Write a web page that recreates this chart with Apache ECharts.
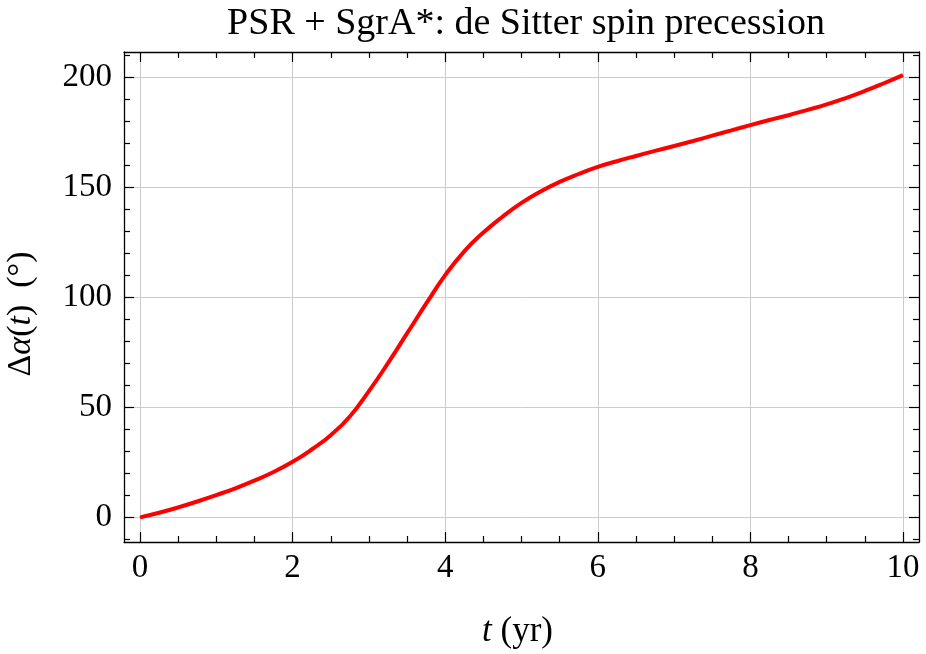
<!DOCTYPE html>
<html>
<head>
<meta charset="utf-8">
<script src="https://cdn.jsdelivr.net/npm/echarts@6/dist/echarts.min.js"></script>
<style>
html,body{margin:0;padding:0;background:#fff;}
#chart{width:926px;height:654px;}
</style>
</head>
<body>
<div id="chart"></div>
<script>
var chart = echarts.init(document.getElementById('chart'));

// time (yr) and precession angle (deg)
var tYears = [0, 0.25, 0.5, 0.75, 1, 1.25, 1.5, 1.75, 2, 2.25, 2.5, 2.75, 3, 3.25, 3.5, 3.75, 4,
    4.25, 4.5, 4.75, 5, 5.25, 5.5, 5.75, 6, 6.25, 6.5, 6.75, 7, 7.25, 7.5, 7.75, 8,
    8.25, 8.5, 8.75, 9, 9.25, 9.5, 9.75, 10];
var dAlpha = [0, 2.1, 4.5, 7.2, 10.1, 13.2, 16.7, 20.6, 25.2, 30.8, 37.3, 45.8, 57.3, 70.0, 83.5, 97.0, 110.0,
    120.8, 129.3, 136.5, 142.8, 148.0, 152.3, 155.9, 159.1, 161.7, 164.1, 166.4, 168.6, 170.9, 173.3, 175.7, 178.1,
    180.4, 182.6, 185.0, 187.5, 190.4, 193.6, 197.1, 200.8];

// tick labels
var xMajor = [0, 2, 4, 6, 8, 10];
var xMinor = [0.5, 1, 1.5, 2.5, 3, 3.5, 4.5, 5, 5.5, 6.5, 7, 7.5, 8.5, 9, 9.5];
var yMajor = [0, 50, 100, 150, 200];
var yMinor = [-10, 10, 20, 30, 40, 60, 70, 80, 90, 110, 120, 130, 140, 160, 170, 180, 190, 210];

var xRange = [-0.21, 10.21];
var yRange = [-11.2, 211.3];

var serif = 'Liberation Serif';
var lineStyle = {color: '#000', width: 1.3};
var gridLine = {show: true, lineStyle: {color: '#cccccc', width: 1}};

function axisPart(kind, pos, ticks, len, opts) {
    var a = {
        type: 'value',
        position: pos,
        min: kind == 'x' ? xRange[0] : yRange[0],
        max: kind == 'x' ? xRange[1] : yRange[1],
        axisLine: {show: false, onZero: false, lineStyle: lineStyle},
        axisTick: {show: true, inside: true, length: len, customValues: ticks, lineStyle: {color: '#000', width: 1.2}},
        axisLabel: {show: false},
        splitLine: {show: false}
    };
    for (var k in opts) a[k] = opts[k];
    return a;
}

var data = [];
for (var i = 0; i < tYears.length; i++) data.push([tYears[i], dAlpha[i]]);

chart.setOption({
    backgroundColor: '#fff',
    animation: false,
    title: {
        text: 'PSR + SgrA*: de Sitter spin precession',
        left: 521,
        textAlign: 'center',
        top: 0,
        textStyle: {fontFamily: serif, fontWeight: 'normal', fontSize: 38, color: '#000'}
    },
    grid: {left: 124, right: 7, top: 52, bottom: 112, outerBoundsMode: 'none'},
    xAxis: [
        axisPart('x', 'bottom', xMajor, 10, {
            axisLine: {show: true, onZero: false, lineStyle: lineStyle},
            axisLabel: {show: true, customValues: xMajor, margin: 10, fontFamily: serif, fontSize: 33, color: '#000'},
            splitLine: gridLine,
            name: '{i|t} (yr)',
            nameLocation: 'middle',
            nameGap: 72,
            nameTextStyle: {fontFamily: serif, fontSize: 35, color: '#000', padding: [0, 8, 0, 0],
                rich: {i: {fontFamily: serif, fontStyle: 'italic', fontSize: 35, color: '#000'}}}
        }),
        axisPart('x', 'bottom', xMinor, 6, {}),
        axisPart('x', 'top', xMajor, 10, {axisLine: {show: true, onZero: false, lineStyle: lineStyle}}),
        axisPart('x', 'top', xMinor, 6, {})
    ],
    yAxis: [
        axisPart('y', 'left', yMajor, 10, {
            axisLine: {show: true, onZero: false, lineStyle: lineStyle},
            axisLabel: {show: true, customValues: yMajor, margin: 12, fontFamily: serif, fontSize: 33, color: '#000'},
            splitLine: gridLine,
            name: '\u0394{i|\u03b1}({i|t})  (\u00b0)',
            nameLocation: 'middle',
            nameRotate: 90,
            nameGap: 86,
            nameTextStyle: {fontFamily: serif, fontSize: 34, color: '#000', padding: [0, 34, 0, 0],
                rich: {i: {fontFamily: serif, fontStyle: 'italic', fontSize: 34, color: '#000'}}}
        }),
        axisPart('y', 'left', yMinor, 6, {}),
        axisPart('y', 'right', yMajor, 10, {axisLine: {show: true, onZero: false, lineStyle: lineStyle}}),
        axisPart('y', 'right', yMinor, 6, {})
    ],
    series: [{
        type: 'line',
        xAxisIndex: 0,
        yAxisIndex: 0,
        data: data,
        smooth: 0.5,
        showSymbol: false,
        lineStyle: {color: '#ff0000', width: 4}
    }]
});

window.addEventListener('resize', function () {
    chart.resize();
});
</script>
</body>
</html>
